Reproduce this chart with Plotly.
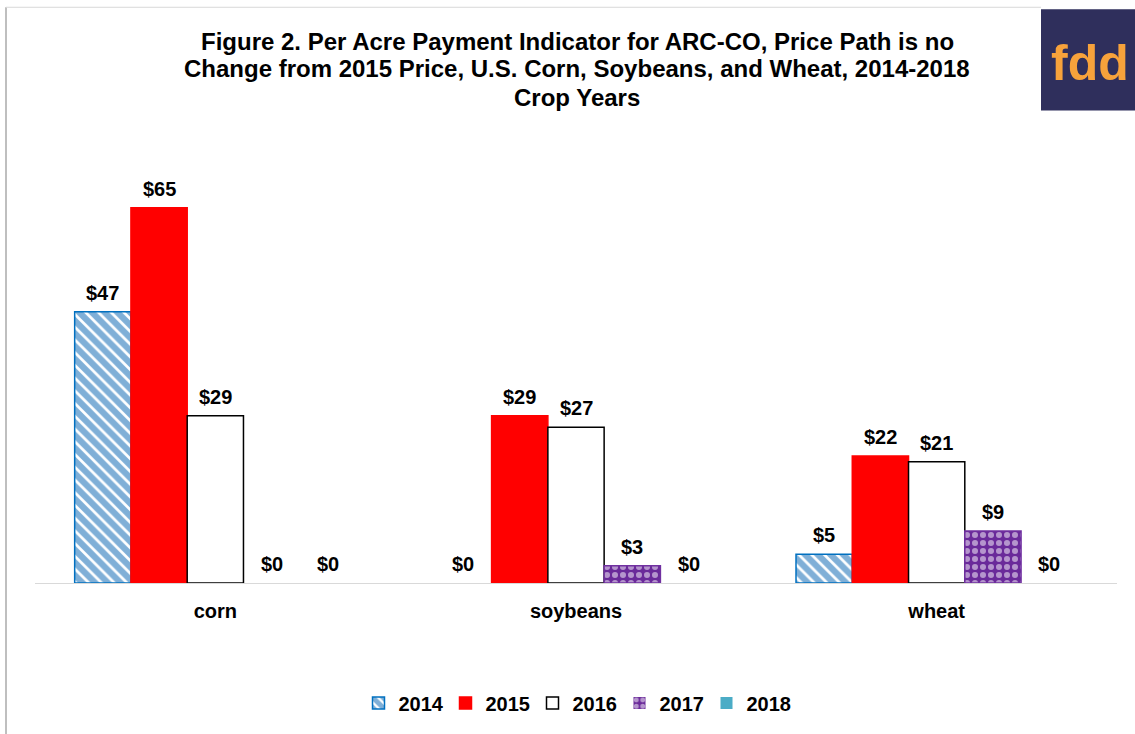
import plotly.graph_objects as go

categories = ["corn", "soybeans", "wheat"]
years = ["2014", "2015", "2016", "2017", "2018"]
values = {
    "2014": [47, 0, 5],
    "2015": [65, 29, 22],
    "2016": [29, 27, 21],
    "2017": [0, 3, 9],
    "2018": [0, 0, 0],
}
title_lines = [
    "Figure 2. Per Acre Payment Indicator for ARC-CO, Price Path is no",
    "Change from 2015 Price, U.S. Corn, Soybeans, and Wheat, 2014-2018",
    "Crop Years",
]

FONT = "Arial, Liberation Sans, sans-serif"

line_colors = {"2014": "#0070C0", "2015": "#FF0000", "2016": "black", "2017": "#7030A0", "2018": "#4BACC6"}
fills = {"2014": "white", "2015": "#FF0000", "2016": "white", "2017": "#7030A0", "2018": "#4BACC6"}
patterns = {
    "2014": dict(shape="\\", fgcolor="#0060B0", bgcolor="white", size=9, solidity=0.7),
    "2017": dict(shape=".", fgcolor="white", bgcolor="#6A2A9A", size=8, solidity=0.45),
}

L, T = 35, 179
W, H = 1135, 734
R = 18
pw = W - L - R
ph = 586 - T
BARGAP = 0.22
bar_px = pw / len(categories) * (1 - BARGAP) / len(years)


def px(x):
    return (x - L) / pw


def py(y):
    return (586 - y) / ph


fig = go.Figure()
annotations = []
for i, y in enumerate(years):
    vals = values[y]
    marker = dict(color=fills[y],
                  line=dict(color=line_colors[y], width=[1.5 if v > 0 else 0 for v in vals]))
    if y in patterns:
        marker["pattern"] = patterns[y]
    fig.add_trace(go.Bar(x=categories, y=vals, name=y, marker=marker, cliponaxis=False))
    for c, v in zip(categories, vals):
        annotations.append(dict(
            x=c, y=v, xref="x", yref="y", text=f"${v}", showarrow=False,
            xanchor="center", yanchor="bottom", xshift=(i - (len(years) - 1) / 2) * bar_px, yshift=6,
            font=dict(family=FONT, size=20, color="black", weight="bold")))

for k, (line, ypix) in enumerate(zip(title_lines, [40, 68, 97])):
    annotations.append(dict(xref="paper", yref="paper", x=px(577), y=py(ypix), xanchor="center",
                            yanchor="middle", showarrow=False, text=line,
                            font=dict(family=FONT, size=24, color="black", weight="bold")))

annotations.append(dict(xref="paper", yref="paper", x=px(1090), y=py(62), xanchor="center", yanchor="middle",
                        showarrow=False, text="fdd",
                        font=dict(family=FONT, size=50, color="#F7A23B", weight="bold")))

fig.update_layout(
    width=W, height=H,
    margin=dict(l=L, r=R, t=T, b=H - 586),
    paper_bgcolor="white", plot_bgcolor="white",
    barmode="group", bargap=BARGAP, bargroupgap=0,
    font=dict(family=FONT),
    showlegend=True,
    legend=dict(orientation="h", x=0.5, xanchor="center", y=py(707), yanchor="middle",
                font=dict(family=FONT, size=20, color="black", weight="bold"),
                itemwidth=30, traceorder="normal", entrywidth=42, entrywidthmode="pixels"),
    xaxis=dict(showline=True, linecolor="#D9D9D9", linewidth=1, ticks="",
               tickfont=dict(family=FONT, size=20, color="black", weight="bold"),
               ticklabelstandoff=10),
    yaxis=dict(range=[0, 70], visible=False, showgrid=False, zeroline=False),
    shapes=[
        dict(type="line", xref="paper", yref="paper", x0=px(6), x1=px(6), y0=py(6), y1=py(740),
             line=dict(color="#BFBFBF", width=2)),
        dict(type="line", xref="paper", yref="paper", x0=px(6), x1=px(1041), y0=py(6), y1=py(6),
             line=dict(color="#D9D9D9", width=1)),
        dict(type="rect", xref="paper", yref="paper", x0=px(1041), x1=px(1140), y0=py(8), y1=py(110),
             fillcolor="#2F2F5C", line=dict(width=0)),
    ],
    annotations=annotations,
)

fig.write_html("out.html", config={"displayModeBar": False},
               post_script="document.body.style.margin='0';")
